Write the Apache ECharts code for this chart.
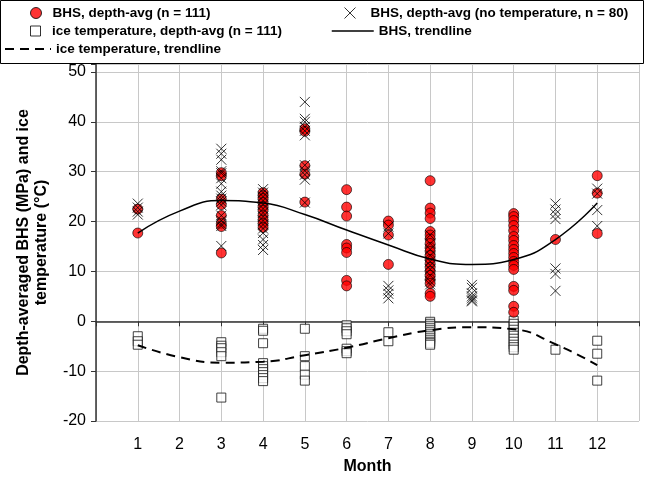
<!DOCTYPE html>
<html>
<head>
<meta charset="utf-8">
<script src="https://cdn.jsdelivr.net/npm/echarts@6/dist/echarts.min.js"></script>
<style>
  html, body { margin: 0; padding: 0; background: #ffffff; }
  #chart { width: 654px; height: 480px; }
</style>
</head>
<body>
<div id="chart"></div>
<script>
// Depth-averaged BHS (MPa) and ice temperature (°C) by month.

const seriesNames = [
  'BHS, depth-avg (n = 111)',
  'BHS, depth-avg (no temperature, n = 80)',
  'ice temperature, depth-avg (n = 111)',
  'BHS, trendline',
  'ice temperature, trendline'
];

// BHS with a paired ice temperature: [month, MPa]
const bhsPoints = [
  [1, 22.5], [1, 17.7],
  [3, 29.8], [3, 29.2], [3, 24.5], [3, 23.4], [3, 21.2], [3, 19.6], [3, 19.0], [3, 13.7],
  [4, 25.8], [4, 25.2], [4, 24.6], [4, 23.8], [4, 23.0], [4, 22.3], [4, 21.2], [4, 20.3], [4, 19.6], [4, 18.8],
  [5, 38.6], [5, 38.1], [5, 31.2], [5, 29.5], [5, 23.9],
  [6, 26.4], [6, 22.9], [6, 21.1], [6, 15.4], [6, 14.7], [6, 13.8], [6, 8.2], [6, 7.1],
  [7, 20.1], [7, 19.3], [7, 17.3], [7, 11.4],
  [8, 28.2], [8, 22.7], [8, 21.7], [8, 20.6], [8, 18.0], [8, 17.3], [8, 16.5], [8, 15.6], [8, 14.8], [8, 14.0],
  [8, 13.2], [8, 12.4], [8, 11.6], [8, 10.8], [8, 10.0], [8, 9.2], [8, 8.4], [8, 7.6], [8, 5.6], [8, 5.0],
  [10, 21.6], [10, 21.0], [10, 20.2], [10, 19.2], [10, 18.2], [10, 17.0], [10, 16.2], [10, 15.2], [10, 14.4],
  [10, 13.6], [10, 12.8], [10, 12.0], [10, 11.2], [10, 10.4], [10, 7.0], [10, 6.2], [10, 3.0], [10, 1.8],
  [11, 16.4],
  [12, 29.2], [12, 25.7], [12, 17.6]
];

// BHS measured without a temperature profile: [month, MPa]
const bhsNoTempPoints = [
  [1, 23.6], [1, 22.8], [1, 22.0], [1, 21.4],
  [3, 34.6], [3, 33.6], [3, 32.4], [3, 30.1], [3, 29.7], [3, 28.7], [3, 27.6], [3, 26.0], [3, 25.2],
  [3, 24.6], [3, 24.0], [3, 23.3], [3, 21.2], [3, 20.2], [3, 19.5], [3, 19.1], [3, 15.1],
  [4, 26.5], [4, 25.8], [4, 25.0], [4, 24.2], [4, 23.4], [4, 22.6], [4, 21.8], [4, 21.0], [4, 20.2],
  [4, 19.4], [4, 18.6], [4, 17.7], [4, 16.4], [4, 15.3], [4, 14.3],
  [5, 44.0], [5, 40.6], [5, 40.0], [5, 39.0], [5, 38.2], [5, 37.3], [5, 31.3], [5, 30.2], [5, 29.4], [5, 28.4], [5, 23.8],
  [7, 19.0], [7, 17.6], [7, 7.1], [7, 6.2], [7, 5.5], [7, 4.6],
  [8, 17.3], [8, 15.6], [8, 14.4], [8, 13.2], [8, 12.0], [8, 11.2], [8, 10.4], [8, 9.2], [8, 8.0], [8, 7.4],
  [9, 7.3], [9, 6.7], [9, 5.6], [9, 5.0], [9, 4.6], [9, 4.2], [9, 4.0],
  [11, 23.6], [11, 22.4], [11, 21.5], [11, 20.5], [11, 10.6], [11, 9.5], [11, 6.1],
  [12, 26.6], [12, 25.6], [12, 22.3], [12, 19.1]
];

// Depth-averaged ice temperature: [month, °C]
const iceTempPoints = [
  [1, -3.0], [1, -4.0], [1, -4.7],
  [3, -4.2], [3, -4.9], [3, -5.4], [3, -6.2], [3, -7.0], [3, -15.3],
  [4, -1.5], [4, -1.9], [4, -4.4], [4, -8.4], [4, -9.0], [4, -9.6], [4, -10.2], [4, -10.8], [4, -11.4], [4, -12.0],
  [5, -1.5], [5, -7.0], [5, -9.0], [5, -10.7], [5, -11.9],
  [6, -0.8], [6, -1.4], [6, -2.0], [6, -2.6], [6, -5.5], [6, -6.0], [6, -6.4],
  [7, -2.2], [7, -4.0],
  [8, -0.1], [8, -0.5], [8, -0.9], [8, -1.3], [8, -1.7], [8, -2.1], [8, -2.5], [8, -2.9], [8, -3.3],
  [8, -3.7], [8, -4.1], [8, -4.4], [8, -4.7],
  [10, 0.1], [10, -0.5], [10, -1.1], [10, -1.7], [10, -2.3], [10, -2.9], [10, -3.5], [10, -4.1],
  [10, -4.7], [10, -5.2], [10, -5.7],
  [11, -5.7],
  [12, -3.9], [12, -6.5], [12, -11.9]
];

// Trendlines, evaluated at each month
const trendMonths = [1, 2, 3, 4, 5, 6, 7, 8, 9, 10, 11, 12];
const bhsTrend = [17.7, 22.1, 24.2, 23.7, 21.4, 18.3, 15.3, 12.5, 11.4, 12.4, 16.4, 23.7];
const iceTrend = [-4.8, -7.2, -8.3, -8.1, -6.8, -5.3, -3.4, -1.8, -1.2, -1.6, -4.6, -8.8];

// Axis ranges
const monthMin = 0, monthMax = 13;
const valueMin = -20, valueTop = 51.6, valueStep = 10;

const FONT = '"Liberation Sans", Arial, Helvetica, sans-serif';
const CROSS = 'path://M0,0L10,10M10,0L0,10';
const SQUARE = 'path://M0,0H10V10H0Z';

const chart = echarts.init(document.getElementById('chart'), null, { renderer: 'canvas' });

const legendText = { fontFamily: FONT, fontSize: 13.5, fontWeight: 'bold', color: '#000' };
const hiddenMarker = { opacity: 0, borderWidth: 0 };

chart.setOption({
  animation: false,
  backgroundColor: '#ffffff',
  textStyle: { fontFamily: FONT },
  grid: { left: 96, right: 15, top: 64, bottom: 58, containLabel: false },
  graphic: [{
    type: 'rect', z: 1, silent: true,
    shape: { x: 0.5, y: 0.5, width: 643, height: 63 },
    style: { fill: '#ffffff', stroke: '#000000', lineWidth: 1 }
  }],
  legend: [
    { data: [seriesNames[0]], left: 30, top: 6, padding: 0, itemWidth: 23, itemHeight: 11,
      textStyle: legendText, itemStyle: { borderWidth: 1, borderColor: '#000' } },
    { data: [seriesNames[1]], left: 344, top: 6, padding: 0, itemWidth: 31, itemHeight: 11,
      textStyle: legendText, itemStyle: { borderWidth: 1, borderColor: '#000' } },
    { data: [seriesNames[2]], left: 30, top: 24, padding: 0, itemWidth: 23, itemHeight: 10,
      icon: SQUARE, textStyle: legendText, itemStyle: { borderWidth: 1, borderColor: '#000' } },
    { data: [seriesNames[3]], left: 331, top: 24, padding: 0, itemWidth: 42, itemHeight: 10,
      textStyle: legendText, itemStyle: hiddenMarker,
      lineStyle: { width: 1.5, color: '#000', type: 'solid' } },
    { data: [seriesNames[4]], left: 4, top: 42, padding: 0, itemWidth: 46, itemHeight: 10,
      textStyle: legendText, itemStyle: hiddenMarker,
      lineStyle: { width: 2, color: '#000', type: [9, 6] } }
  ],
  xAxis: {
    type: 'value', min: monthMin, max: monthMax, interval: 1,
    name: 'Month', nameLocation: 'middle', nameGap: 38,
    nameTextStyle: { fontFamily: FONT, fontSize: 16, fontWeight: 'bold', color: '#000' },
    axisLine: { show: true, lineStyle: { color: '#333', width: 1.5 } },
    axisTick: { show: true, length: 5, lineStyle: { color: '#333' } },
    axisLabel: {
      fontFamily: FONT, fontSize: 16, color: '#000', margin: 16,
      formatter: v => (v >= 1 && v <= 12 ? String(v) : '')
    },
    splitLine: { show: true, lineStyle: { color: '#c8c8c8', width: 1 } }
  },
  yAxis: {
    type: 'value', min: valueMin, max: valueTop, interval: valueStep,
    name: 'Depth-averaged BHS (MPa) and ice\ntemperature (°C)',
    nameLocation: 'middle', nameGap: 45, nameRotate: 90,
    nameTextStyle: { fontFamily: FONT, fontSize: 16, fontWeight: 'bold', color: '#000', lineHeight: 18, align: 'center' },
    axisLine: { show: true, lineStyle: { color: '#333', width: 1.5 } },
    axisTick: { show: true, length: 5, lineStyle: { color: '#333' } },
    axisLabel: {
      fontFamily: FONT, fontSize: 16, color: '#000', margin: 10,
      formatter: v => (v % 10 === 0 ? String(v) : '')
    },
    splitLine: { show: true, lineStyle: { color: '#c8c8c8', width: 1 } }
  },
  series: [
    {
      name: seriesNames[2], type: 'scatter', data: iceTempPoints,
      symbol: 'rect', symbolSize: 9,
      itemStyle: { color: '#ffffff', borderColor: '#111', borderWidth: 1 }
    },
    {
      name: seriesNames[0], type: 'scatter', data: bhsPoints,
      symbol: 'circle', symbolSize: 10,
      itemStyle: { color: '#ff0000', borderColor: '#000', borderWidth: 0.8 }
    },
    {
      name: seriesNames[1], type: 'scatter', data: bhsNoTempPoints,
      symbol: CROSS, symbolSize: 10,
      itemStyle: { color: 'rgba(0,0,0,0)', borderColor: '#000', borderWidth: 1 }
    },
    {
      name: seriesNames[3], type: 'line', symbol: 'none', smooth: true,
      data: trendMonths.map((m, i) => [m, bhsTrend[i]]),
      lineStyle: { color: '#000', width: 1.5 }
    },
    {
      name: seriesNames[4], type: 'line', symbol: 'none', smooth: true,
      data: trendMonths.map((m, i) => [m, iceTrend[i]]),
      lineStyle: { color: '#000', width: 2, type: [9, 6] }
    }
  ]
});
</script>
</body>
</html>
